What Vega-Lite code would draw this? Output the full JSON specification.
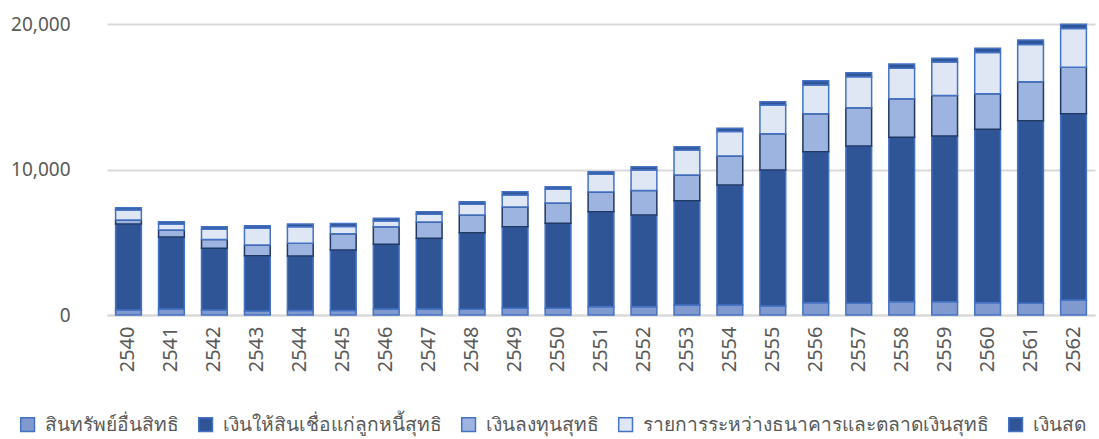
{
  "$schema": "https://vega.github.io/schema/vega-lite/v6.json",
  "width": 988,
  "height": 291,
  "autosize": "none",
  "padding": {"left": 107, "top": 24, "right": 4, "bottom": 124},
  "background": "white",
  "config": {"view": {"stroke": null}, "font": "Noto Sans"},
  "data": {"values": [
    {"year":"2540","series":"สินทรัพย์อื่นสิทธิ","k":1,"value":345},{"year":"2540","series":"เงินให้สินเชื่อแก่ลูกหนี้สุทธิ","k":2,"value":5910},{"year":"2540","series":"เงินลงทุนสุทธิ","k":3,"value":275},{"year":"2540","series":"รายการระหว่างธนาคารและตลาดเงินสุทธิ","k":4,"value":690},{"year":"2540","series":"เงินสด","k":5,"value":150},
    {"year":"2541","series":"สินทรัพย์อื่นสิทธิ","k":1,"value":410},{"year":"2541","series":"เงินให้สินเชื่อแก่ลูกหนี้สุทธิ","k":2,"value":4950},{"year":"2541","series":"เงินลงทุนสุทธิ","k":3,"value":480},{"year":"2541","series":"รายการระหว่างธนาคารและตลาดเงินสุทธิ","k":4,"value":410},{"year":"2541","series":"เงินสด","k":5,"value":160},
    {"year":"2542","series":"สินทรัพย์อื่นสิทธิ","k":1,"value":345},{"year":"2542","series":"เงินให้สินเชื่อแก่ลูกหนี้สุทธิ","k":2,"value":4240},{"year":"2542","series":"เงินลงทุนสุทธิ","k":3,"value":605},{"year":"2542","series":"รายการระหว่างธนาคารและตลาดเงินสุทธิ","k":4,"value":700},{"year":"2542","series":"เงินสด","k":5,"value":180},
    {"year":"2543","series":"สินทรัพย์อื่นสิทธิ","k":1,"value":275},{"year":"2543","series":"เงินให้สินเชื่อแก่ลูกหนี้สุทธิ","k":2,"value":3800},{"year":"2543","series":"เงินลงทุนสุทธิ","k":3,"value":735},{"year":"2543","series":"รายการระหว่างธนาคารและตลาดเงินสุทธิ","k":4,"value":1150},{"year":"2543","series":"เงินสด","k":5,"value":180},
    {"year":"2544","series":"สินทรัพย์อื่นสิทธิ","k":1,"value":310},{"year":"2544","series":"เงินให้สินเชื่อแก่ลูกหนี้สุทธิ","k":2,"value":3745},{"year":"2544","series":"เงินลงทุนสุทธิ","k":3,"value":870},{"year":"2544","series":"รายการระหว่างธนาคารและตลาดเงินสุทธิ","k":4,"value":1140},{"year":"2544","series":"เงินสด","k":5,"value":185},
    {"year":"2545","series":"สินทรัพย์อื่นสิทธิ","k":1,"value":310},{"year":"2545","series":"เงินให้สินเชื่อแก่ลูกหนี้สุทธิ","k":2,"value":4160},{"year":"2545","series":"เงินลงทุนสุทธิ","k":3,"value":1115},{"year":"2545","series":"รายการระหว่างธนาคารและตลาดเงินสุทธิ","k":4,"value":500},{"year":"2545","series":"เงินสด","k":5,"value":210},
    {"year":"2546","series":"สินทรัพย์อื่นสิทธิ","k":1,"value":410},{"year":"2546","series":"เงินให้สินเชื่อแก่ลูกหนี้สุทธิ","k":2,"value":4450},{"year":"2546","series":"เงินลงทุนสุทธิ","k":3,"value":1210},{"year":"2546","series":"รายการระหว่างธนาคารและตลาดเงินสุทธิ","k":4,"value":390},{"year":"2546","series":"เงินสด","k":5,"value":185},
    {"year":"2547","series":"สินทรัพย์อื่นสิทธิ","k":1,"value":410},{"year":"2547","series":"เงินให้สินเชื่อแก่ลูกหนี้สุทธิ","k":2,"value":4860},{"year":"2547","series":"เงินลงทุนสุทธิ","k":3,"value":1120},{"year":"2547","series":"รายการระหว่างธนาคารและตลาดเงินสุทธิ","k":4,"value":530},{"year":"2547","series":"เงินสด","k":5,"value":180},
    {"year":"2548","series":"สินทรัพย์อื่นสิทธิ","k":1,"value":390},{"year":"2548","series":"เงินให้สินเชื่อแก่ลูกหนี้สุทธิ","k":2,"value":5265},{"year":"2548","series":"เงินลงทุนสุทธิ","k":3,"value":1215},{"year":"2548","series":"รายการระหว่างธนาคารและตลาดเงินสุทธิ","k":4,"value":735},{"year":"2548","series":"เงินสด","k":5,"value":180},
    {"year":"2549","series":"สินทรัพย์อื่นสิทธิ","k":1,"value":460},{"year":"2549","series":"เงินให้สินเชื่อแก่ลูกหนี้สุทธิ","k":2,"value":5610},{"year":"2549","series":"เงินลงทุนสุทธิ","k":3,"value":1355},{"year":"2549","series":"รายการระหว่างธนาคารและตลาดเงินสุทธิ","k":4,"value":825},{"year":"2549","series":"เงินสด","k":5,"value":225},
    {"year":"2550","series":"สินทรัพย์อื่นสิทธิ","k":1,"value":460},{"year":"2550","series":"เงินให้สินเชื่อแก่ลูกหนี้สุทธิ","k":2,"value":5840},{"year":"2550","series":"เงินลงทุนสุทธิ","k":3,"value":1395},{"year":"2550","series":"รายการระหว่างธนาคารและตลาดเงินสุทธิ","k":4,"value":940},{"year":"2550","series":"เงินสด","k":5,"value":180},
    {"year":"2551","series":"สินทรัพย์อื่นสิทธิ","k":1,"value":570},{"year":"2551","series":"เงินให้สินเชื่อแก่ลูกหนี้สุทธิ","k":2,"value":6530},{"year":"2551","series":"เงินลงทุนสุทธิ","k":3,"value":1355},{"year":"2551","series":"รายการระหว่างธนาคารและตลาดเงินสุทธิ","k":4,"value":1215},{"year":"2551","series":"เงินสด","k":5,"value":180},
    {"year":"2552","series":"สินทรัพย์อื่นสิทธิ","k":1,"value":570},{"year":"2552","series":"เงินให้สินเชื่อแก่ลูกหนี้สุทธิ","k":2,"value":6300},{"year":"2552","series":"เงินลงทุนสุทธิ","k":3,"value":1685},{"year":"2552","series":"รายการระหว่างธนาคารและตลาดเงินสุทธิ","k":4,"value":1410},{"year":"2552","series":"เงินสด","k":5,"value":225},
    {"year":"2553","series":"สินทรัพย์อื่นสิทธิ","k":1,"value":690},{"year":"2553","series":"เงินให้สินเชื่อแก่ลูกหนี้สุทธิ","k":2,"value":7170},{"year":"2553","series":"เงินลงทุนสุทธิ","k":3,"value":1765},{"year":"2553","series":"รายการระหว่างธนาคารและตลาดเงินสุทธิ","k":4,"value":1720},{"year":"2553","series":"เงินสด","k":5,"value":225},
    {"year":"2554","series":"สินทรัพย์อื่นสิทธิ","k":1,"value":690},{"year":"2554","series":"เงินให้สินเชื่อแก่ลูกหนี้สุทธิ","k":2,"value":8250},{"year":"2554","series":"เงินลงทุนสุทธิ","k":3,"value":1995},{"year":"2554","series":"รายการระหว่างธนาคารและตลาดเงินสุทธิ","k":4,"value":1670},{"year":"2554","series":"เงินสด","k":5,"value":235},
    {"year":"2555","series":"สินทรัพย์อื่นสิทธิ","k":1,"value":620},{"year":"2555","series":"เงินให้สินเชื่อแก่ลูกหนี้สุทธิ","k":2,"value":9350},{"year":"2555","series":"เงินลงทุนสุทธิ","k":3,"value":2495},{"year":"2555","series":"รายการระหว่างธนาคารและตลาดเงินสุทธิ","k":4,"value":1970},{"year":"2555","series":"เงินสด","k":5,"value":225},
    {"year":"2556","series":"สินทรัพย์อื่นสิทธิ","k":1,"value":845},{"year":"2556","series":"เงินให้สินเชื่อแก่ลูกหนี้สุทธิ","k":2,"value":10380},{"year":"2556","series":"เงินลงทุนสุทธิ","k":3,"value":2610},{"year":"2556","series":"รายการระหว่างธนาคารและตลาดเงินสุทธิ","k":4,"value":1970},{"year":"2556","series":"เงินสด","k":5,"value":295},
    {"year":"2557","series":"สินทรัพย์อื่นสิทธิ","k":1,"value":805},{"year":"2557","series":"เงินให้สินเชื่อแก่ลูกหนี้สุทธิ","k":2,"value":10810},{"year":"2557","series":"เงินลงทุนสุทธิ","k":3,"value":2625},{"year":"2557","series":"รายการระหว่างธนาคารและตลาดเงินสุทธิ","k":4,"value":2140},{"year":"2557","series":"เงินสด","k":5,"value":275},
    {"year":"2558","series":"สินทรัพย์อื่นสิทธิ","k":1,"value":915},{"year":"2558","series":"เงินให้สินเชื่อแก่ลูกหนี้สุทธิ","k":2,"value":11300},{"year":"2558","series":"เงินลงทุนสุทธิ","k":3,"value":2645},{"year":"2558","series":"รายการระหว่างธนาคารและตลาดเงินสุทธิ","k":4,"value":2095},{"year":"2558","series":"เงินสด","k":5,"value":295},
    {"year":"2559","series":"สินทรัพย์อื่นสิทธิ","k":1,"value":915},{"year":"2559","series":"เงินให้สินเชื่อแก่ลูกหนี้สุทธิ","k":2,"value":11390},{"year":"2559","series":"เงินลงทุนสุทธิ","k":3,"value":2785},{"year":"2559","series":"รายการระหว่างธนาคารและตลาดเงินสุทธิ","k":4,"value":2300},{"year":"2559","series":"เงินสด","k":5,"value":255},
    {"year":"2560","series":"สินทรัพย์อื่นสิทธิ","k":1,"value":845},{"year":"2560","series":"เงินให้สินเชื่อแก่ลูกหนี้สุทธิ","k":2,"value":11920},{"year":"2560","series":"เงินลงทุนสุทธิ","k":3,"value":2445},{"year":"2560","series":"รายการระหว่างธนาคารและตลาดเงินสุทธิ","k":4,"value":2830},{"year":"2560","series":"เงินสด","k":5,"value":290},
    {"year":"2561","series":"สินทรัพย์อื่นสิทธิ","k":1,"value":805},{"year":"2561","series":"เงินให้สินเชื่อแก่ลูกหนี้สุทธิ","k":2,"value":12550},{"year":"2561","series":"เงินลงทุนสุทธิ","k":3,"value":2680},{"year":"2561","series":"รายการระหว่างธนาคารและตลาดเงินสุทธิ","k":4,"value":2555},{"year":"2561","series":"เงินสด","k":5,"value":310},
    {"year":"2562","series":"สินทรัพย์อื่นสิทธิ","k":1,"value":1030},{"year":"2562","series":"เงินให้สินเชื่อแก่ลูกหนี้สุทธิ","k":2,"value":12800},{"year":"2562","series":"เงินลงทุนสุทธิ","k":3,"value":3200},{"year":"2562","series":"รายการระหว่างธนาคารและตลาดเงินสุทธิ","k":4,"value":2660},{"year":"2562","series":"เงินสด","k":5,"value":290}
  ]},
  "mark": {"type": "bar", "stroke": "#4472C4", "strokeWidth": 1.5},
  "encoding": {
    "x": {
      "field": "year", "type": "ordinal", "title": null,
      "scale": {"paddingInner": 0.4, "paddingOuter": 0.2},
      "axis": {"labelAngle": -90, "labelFontSize": 20, "labelColor": "#595959", "labelPadding": 11, "ticks": false, "domainColor": "#D9D9D9", "domainWidth": 2}
    },
    "y": {
      "field": "value", "type": "quantitative", "stack": "zero", "title": null,
      "scale": {"domain": [0, 20000], "nice": false},
      "axis": {"values": [0, 10000, 20000], "format": ",.0f", "labelFontSize": 19, "labelColor": "#595959", "labelPadding": 37, "ticks": false, "domain": false, "gridColor": "#D9D9D9", "gridWidth": 2}
    },
    "color": {
      "field": "series", "type": "nominal", "title": null,
      "scale": {
        "domain": ["สินทรัพย์อื่นสิทธิ", "เงินให้สินเชื่อแก่ลูกหนี้สุทธิ", "เงินลงทุนสุทธิ", "รายการระหว่างธนาคารและตลาดเงินสุทธิ", "เงินสด"],
        "range": ["#8099CF", "#2F5597", "#9DB3E0", "#DFE6F4", "#2F5597"]
      },
      "legend": {
        "orient": "none", "direction": "horizontal", "legendX": -89, "legendY": 391,
        "symbolType": "square", "symbolSize": 190, "symbolStrokeColor": "#4472C4", "symbolStrokeWidth": 1.5,
        "labelFontSize": 19.2, "labelColor": "#595959", "labelOffset": 8, "columnPadding": 15, "symbolOffset": 0, "labelLimit": 400
      }
    },
    "stroke": {
      "condition": {"test": "datum.series === 'เงินลงทุนสุทธิ'", "value": "#1F3864"},
      "value": "#4472C4"
    },
    "order": {"field": "k", "type": "quantitative", "sort": "ascending"}
  }
}
